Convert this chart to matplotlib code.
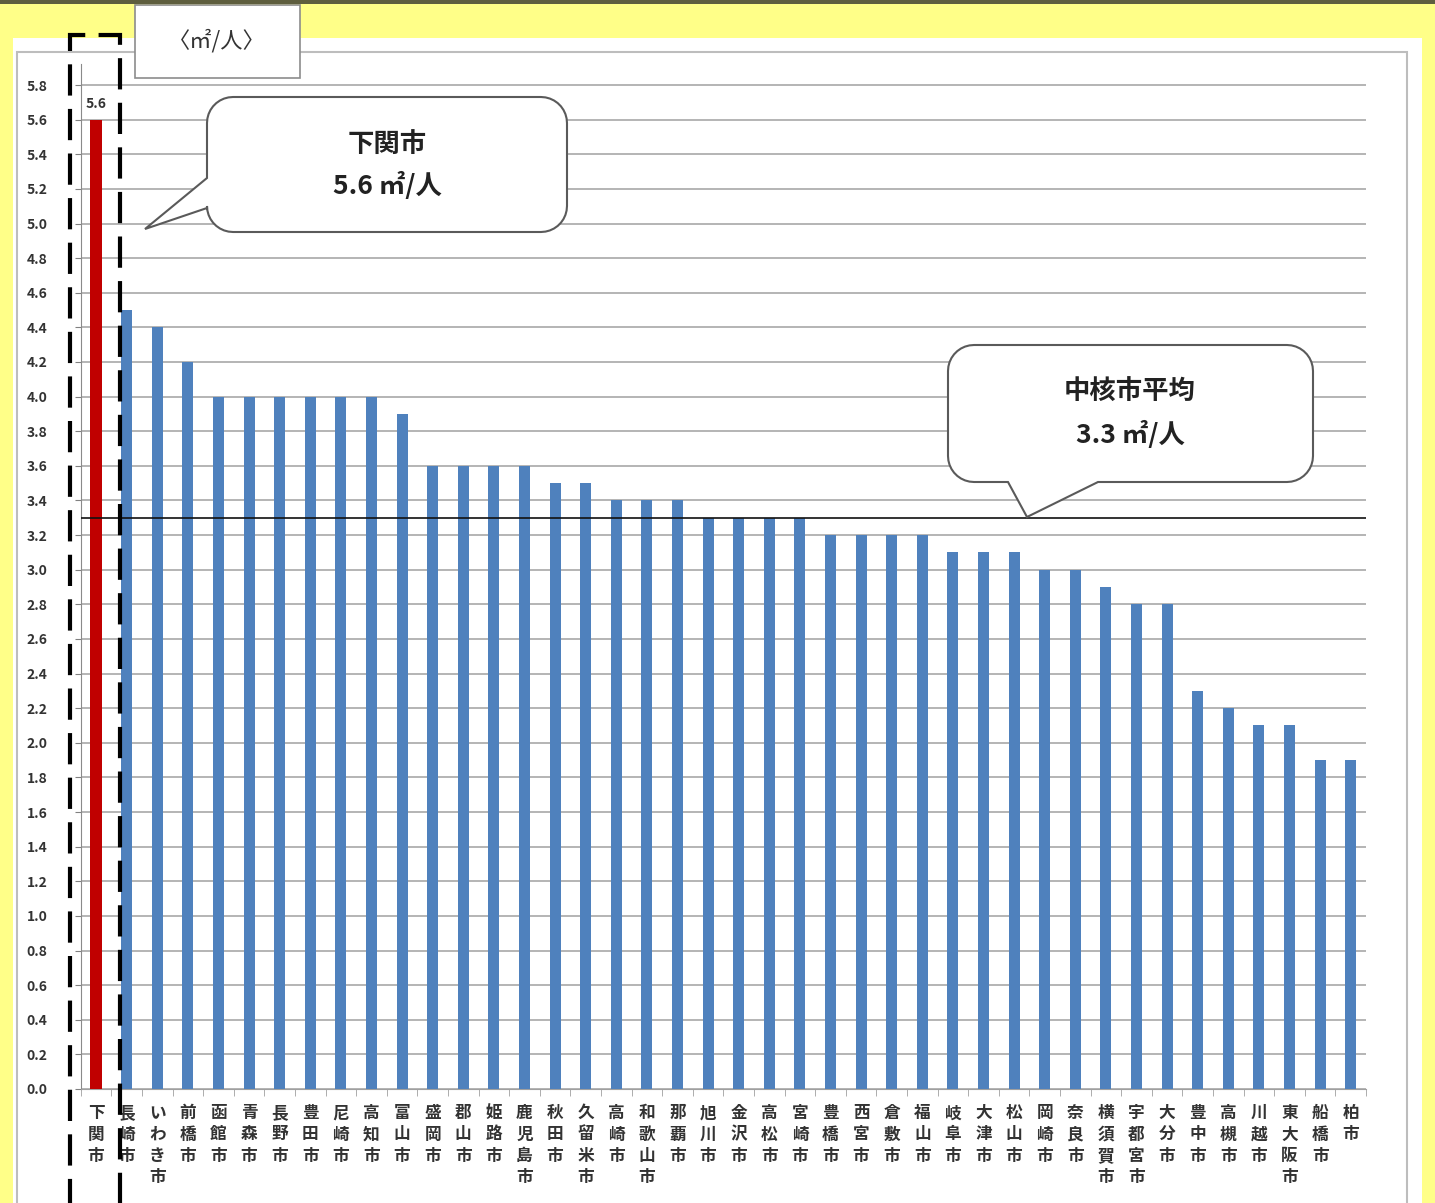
import numpy as np
import matplotlib
matplotlib.use("Agg")
import matplotlib.pyplot as plt
from matplotlib.patches import Rectangle, Polygon
from matplotlib.ticker import FixedLocator

plt.rcParams['font.family'] = ['Noto Sans CJK JP', 'DejaVu Sans']

cities = ["下関市", "長崎市", "いわき市", "前橋市", "函館市", "青森市", "長野市", "豊田市",
          "尼崎市", "高知市", "富山市", "盛岡市", "郡山市", "姫路市", "鹿児島市", "秋田市",
          "久留米市", "高崎市", "和歌山市", "那覇市", "旭川市", "金沢市", "高松市", "宮崎市",
          "豊橋市", "西宮市", "倉敷市", "福山市", "岐阜市", "大津市", "松山市", "岡崎市",
          "奈良市", "横須賀市", "宇都宮市", "大分市", "豊中市", "高槻市", "川越市", "東大阪市",
          "船橋市", "柏市"]
values = [5.6, 4.5, 4.4, 4.2, 4.0, 4.0, 4.0, 4.0, 4.0, 4.0, 3.9, 3.6, 3.6, 3.6, 3.6, 3.5,
          3.5, 3.4, 3.4, 3.4, 3.3, 3.3, 3.3, 3.3, 3.2, 3.2, 3.2, 3.2, 3.1, 3.1, 3.1, 3.0,
          3.0, 2.9, 2.8, 2.8, 2.3, 2.2, 2.1, 2.1, 1.9, 1.9]
average = 3.3
unit_label = "〈㎡/人〉"
callout_city = ["下関市", "5.6 ㎡/人"]
callout_avg = ["中核市平均", "3.3 ㎡/人"]

W, H = 1435, 1203
fig = plt.figure(figsize=(W / 100, H / 100), dpi=100)
fig.patch.set_facecolor("#FFFF88")


def P(x, y):
    return (x / W, 1 - y / H)


def fig_rect(x0, y0, x1, y1, **kw):
    (fx0, fy1), (fx1, fy0) = P(x0, y0), P(x1, y1)
    r = Rectangle((fx0, fy0), fx1 - fx0, fy1 - fy0, transform=fig.transFigure, **kw)
    fig.patches.append(r)
    return r


# top dark border, white panel, grey frame
fig_rect(0, 0, W, 4, facecolor="#5E5E3E", edgecolor="none", zorder=-10)
fig_rect(13, 38, 1422, H + 5, facecolor="white", edgecolor="none", zorder=-9)
fig_rect(17, 52, 1407, H + 20, facecolor="none", edgecolor="#BDBDBD", lw=1.5, zorder=-8)

# axes
px_per_unit = 173.1
ytop = 5.92
ax_left, ax_right, ax_bottom = 80.7, 1366, 1089
ax_top = ax_bottom - ytop * px_per_unit
ax = fig.add_axes([ax_left / W, 1 - ax_bottom / H, (ax_right - ax_left) / W, (ax_bottom - ax_top) / H])
ax.set_facecolor("none")
x = np.arange(len(cities))
colors = ["#C00000"] + ["#4F81BD"] * (len(cities) - 1)
ax.bar(x, values, width=0.36, color=colors, zorder=3)
ax.set_xlim(-0.5, len(cities) - 0.5)
ax.set_ylim(0, ytop)
yt = np.round(np.arange(0, 5.81, 0.2), 1)
ax.yaxis.set_major_locator(FixedLocator(yt))
ax.set_yticklabels([f"{v:.1f}" for v in yt])
ax.grid(axis="y", color="#A8A8A8", lw=1.2, zorder=0)
ax.axhline(average, color="#111111", lw=1.2, zorder=4)
ax.set_xticks(x)
ax.set_xticklabels(["\n".join(c) for c in cities], fontsize=12, color="#333333",
                   fontweight="bold", linespacing=1.23, va="top")
ax.xaxis.set_minor_locator(FixedLocator(np.arange(-0.5, len(cities), 1)))
ax.tick_params(axis="x", which="major", length=0, pad=11)
ax.tick_params(axis="x", which="minor", length=5, color="#A0A0A0", direction="out")
ax.tick_params(axis="y", length=4, color="#808080", pad=20, labelsize=10)
for lab in ax.get_yticklabels():
    lab.set_fontweight("bold")
    lab.set_color("#333333")
for s in ["top", "right"]:
    ax.spines[s].set_visible(False)
ax.spines["left"].set_color("#8A8A8A")
ax.spines["bottom"].set_color("#A0A0A0")
ax.text(0, values[0] + 0.05, f"{values[0]:.1f}", ha="center", va="bottom",
        fontsize=10, fontweight="bold", color="#333333")

# unit box
fig_rect(135, 5, 300, 78, facecolor="white", edgecolor="#8C8C8C", lw=1.2, zorder=5)
fig.text(*P(217, 41), unit_label, ha="center", va="center", fontsize=16, color="#333333", zorder=6)


def arc(cx, cy, r, a0, a1, n=10):
    t = np.radians(np.linspace(a0, a1, n))
    return [(cx + r * np.cos(t_), cy + r * np.sin(t_)) for t_ in t]


def callout(x0, y0, x1, y1, r, tail_left=None, tail_bottom=None):
    pts = []
    pts += arc(x0 + r, y0 + r, r, 180, 270)
    pts += arc(x1 - r, y0 + r, r, 270, 360)
    pts += arc(x1 - r, y1 - r, r, 0, 90)
    if tail_bottom:
        pts += tail_bottom
    pts += arc(x0 + r, y1 - r, r, 90, 180)
    if tail_left:
        pts += tail_left
    verts = [P(px, py) for px, py in pts]
    poly = Polygon(verts, closed=True, transform=fig.transFigure, facecolor="white",
                   edgecolor="#5A5A5A", lw=1.5, zorder=5)
    fig.patches.append(poly)


callout(207, 97, 567, 232, 26, tail_left=[(207, 208), (145, 229), (207, 178)])
fig.text(*P(387, 144), callout_city[0], ha="center", va="center", fontsize=19,
         fontweight="bold", color="#222222", zorder=6)
fig.text(*P(387, 186), callout_city[1], ha="center", va="center", fontsize=19,
         fontweight="bold", color="#222222", zorder=6)

callout(948, 345, 1313, 482, 26, tail_bottom=[(1098, 482), (1027, 517), (1008, 482)])
fig.text(*P(1130, 392), callout_avg[0], ha="center", va="center", fontsize=19,
         fontweight="bold", color="#222222", zorder=6)
fig.text(*P(1130, 435), callout_avg[1], ha="center", va="center", fontsize=19,
         fontweight="bold", color="#222222", zorder=6)

# dashed highlight box around 下関市
(bx0, by1), (bx1, by0) = P(70, 35), P(120, H + 30)
fig.patches.append(Rectangle((bx0, by0), bx1 - bx0, by1 - by0, transform=fig.transFigure,
                             facecolor="none", edgecolor="black", lw=3,
                             linestyle=(0, (7.5, 3.2)), zorder=7))

fig.savefig("out.png", dpi=100, facecolor=fig.get_facecolor())
